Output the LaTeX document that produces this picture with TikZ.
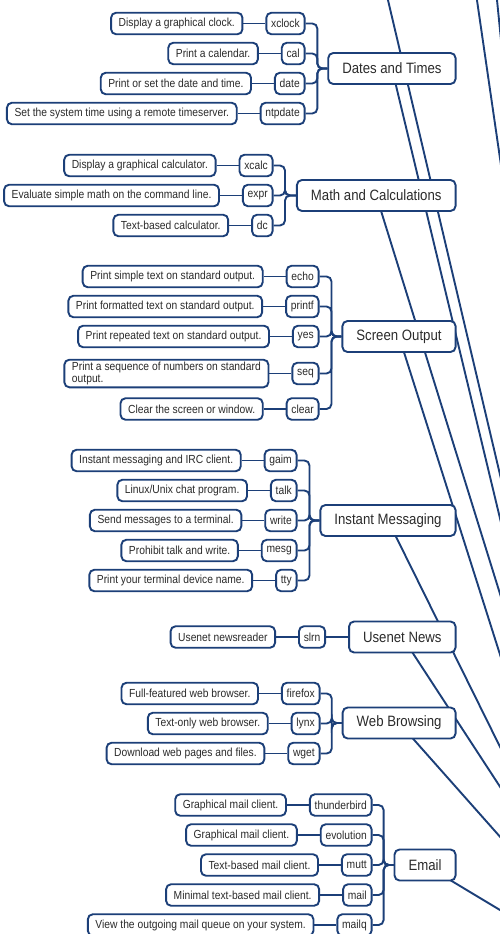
\documentclass[tikz,border=0pt]{standalone}
\usepackage{fontspec}
\setmainfont{Liberation Sans}[FakeStretch=0.88]
\usepackage{xcolor}
\usetikzlibrary{positioning, backgrounds}

\definecolor{mapblue}{HTML}{1C3F78}
\definecolor{maptext}{HTML}{2B2B2B}

\begin{document}
\begin{tikzpicture}[
        x=1pt, y=-1pt,
        node distance=22pt,
        cmd/.style={rectangle, draw=mapblue, line width=1.9pt, fill=white, rounded corners=5pt, minimum height=21.5pt, inner xsep=4.8pt, inner ysep=2pt, text=maptext, font=\fontsize{11.7}{12.7}\selectfont, anchor=east},
        info/.style={cmd, inner xsep=7.6pt, align=left},
        topic/.style={cmd, minimum height=31pt, inner xsep=14pt, font=\fontsize{15}{18}\selectfont},
        line/.style={draw=mapblue, line width=1.9pt},
        branch/.style={line, rounded corners=5pt}
    ]
        \useasboundingbox (0,0) rectangle (500,934);

        % Dates and Times
        \node [topic] (dates) at (456.5,68.5) {Dates and Times};
        \node [cmd] (xclock) at (305.5,23.5) {xclock};
        \node [cmd] (cal) at (305.5,53.5) {cal};
        \node [cmd] (date) at (305.5,83.5) {date};
        \node [cmd] (ntpdate) at (305.5,113.5) {ntpdate};
        \node [info, left=of xclock] (xclocktxt) {Display a graphical clock.};
        \node [info, left=of cal] (caltxt) {Print a calendar.};
        \node [info, left=of date] (datetxt) {Print or set the date and time.};
        \node [info, left=of ntpdate] (ntpdatetxt) {Set the system time using a remote timeserver.};

        % Math and Calculations
        \node [topic] (math) at (456.5,195.5) {Math and Calculations};
        \node [cmd] (xcalc) at (273.5,165.5) {xcalc};
        \node [cmd] (expr) at (273.5,195.5) {expr};
        \node [cmd] (dc) at (273.5,225.5) {dc};
        \node [info, left=of xcalc] (xcalctxt) {Display a graphical calculator.};
        \node [info, left=of expr] (exprtxt) {Evaluate simple math on the command line.};
        \node [info, left=of dc] (dctxt) {Text-based calculator.};

        % Screen Output
        \node [topic] (screen) at (456.5,336.5) {Screen Output};
        \node [cmd] (echo) at (319.5,276.5) {echo};
        \node [cmd] (printf) at (319.5,306.5) {printf};
        \node [cmd] (yes) at (319.5,336.5) {yes};
        \node [cmd] (seq) at (319.5,373.5) {seq};
        \node [cmd] (clear) at (319.5,409) {clear};
        \node [info, left=of echo] (echotxt) {Print simple text on standard output.};
        \node [info, left=of printf] (printftxt) {Print formatted text on standard output.};
        \node [info, left=of yes] (yestxt) {Print repeated text on standard output.};
        \node [info, left=of seq] (seqtxt) {Print a sequence of numbers on standard\\output.};
        \node [info, left=of clear] (cleartxt) {Clear the screen or window.};

        % Instant Messaging
        \node [topic] (im) at (456.5,520.5) {Instant Messaging};
        \node [cmd] (gaim) at (297.5,460.5) {gaim};
        \node [cmd] (talk) at (297.5,490.5) {talk};
        \node [cmd] (write) at (297.5,520.5) {write};
        \node [cmd] (mesg) at (297.5,550.5) {mesg};
        \node [cmd] (tty) at (297.5,580.5) {tty};
        \node [info, left=of gaim] (gaimtxt) {Instant messaging and IRC client.};
        \node [info, left=of talk] (talktxt) {Linux/Unix chat program.};
        \node [info, left=of write] (writetxt) {Send messages to a terminal.};
        \node [info, left=of mesg] (mesgtxt) {Prohibit talk and write.};
        \node [info, left=of tty] (ttytxt) {Print your terminal device name.};

        % Usenet News
        \node [topic] (usenet) at (456.5,637) {Usenet News};
        \node [cmd, left=of usenet] (slrn) {slrn};
        \node [info, left=of slrn] (slrntxt) {Usenet newsreader};

        % Web Browsing
        \node [topic] (web) at (456.5,723) {Web Browsing};
        \node [cmd] (firefox) at (320.5,693.5) {firefox};
        \node [cmd] (lynx) at (320.5,723.5) {lynx};
        \node [cmd] (wget) at (320.5,753.5) {wget};
        \node [info, left=of firefox] (firefoxtxt) {Full-featured web browser.};
        \node [info, left=of lynx] (lynxtxt) {Text-only web browser.};
        \node [info, left=of wget] (wgettxt) {Download web pages and files.};

        % Email
        \node [topic] (email) at (456.5,865) {Email};
        \node [cmd] (thunderbird) at (372.5,805) {thunderbird};
        \node [cmd] (evolution) at (372.5,835) {evolution};
        \node [cmd] (mutt) at (372.5,865) {mutt};
        \node [cmd] (mail) at (372.5,895) {mail};
        \node [cmd] (mailq) at (372.5,925) {mailq};
        \node [info, left=of thunderbird] (thunderbirdtxt) {Graphical mail client.};
        \node [info, left=of evolution] (evolutiontxt) {Graphical mail client.};
        \node [info, left=of mutt] (mutttxt) {Text-based mail client.};
        \node [info, left=of mail] (mailtxt) {Minimal text-based mail client.};
        \node [info, left=of mailq] (mailqtxt) {View the outgoing mail queue on your system.};

        % loose ends of the long spokes
        \coordinate (top1) at (385.6,-10);
        \coordinate (top1end) at (510,517);
        \coordinate (top2) at (475.5,-10);
        \coordinate (top2end) at (510,227);
        \coordinate (top3) at (496,-10);
        \coordinate (top3end) at (510,130);
        \coordinate (datesend) at (510,560);
        \coordinate (mathend) at (510,626);
        \coordinate (screenend) at (510,686);
        \coordinate (imend) at (510,767);
        \coordinate (usenetend) at (510,802);
        \coordinate (webend) at (510,848);
        \coordinate (emailend) at (510,916);

        \begin{pgfonlayer}{background}
            \path [line] (top1) -- (top1end);
            \path [line] (top2) -- (top2end);
            \path [line] (top3) -- (top3end);
            \path [line] (dates.center) -- (datesend);
            \path [line] (math.center) -- (mathend);
            \path [line] (screen.center) -- (screenend);
            \path [line] (im.center) -- (imend);
            \path [line] (usenet.center) -- (usenetend);
            \path [line] (web.center) -- (webend);
            \path [line] (email.center) -- (emailend);
        \end{pgfonlayer}

        \path [line] (xclocktxt) -- (xclock);
        \path [line] (caltxt) -- (cal);
        \path [line] (datetxt) -- (date);
        \path [line] (ntpdatetxt) -- (ntpdate);
        \path [branch] (dates.west) -- ++(-10,0) |- (xclock.east);
        \path [branch] (dates.west) -- ++(-10,0) |- (cal.east);
        \path [branch] (dates.west) -- ++(-10,0) |- (date.east);
        \path [branch] (dates.west) -- ++(-10,0) |- (ntpdate.east);

        \path [line] (xcalctxt) -- (xcalc);
        \path [line] (exprtxt) -- (expr);
        \path [line] (dctxt) -- (dc);
        \path [branch] (math.west) -- ++(-11,0) |- (xcalc.east);
        \path [branch] (math.west) -- ++(-11,0) |- (expr.east);
        \path [branch] (math.west) -- ++(-11,0) |- (dc.east);

        \path [line] (echotxt) -- (echo);
        \path [line] (printftxt) -- (printf);
        \path [line] (yestxt) -- (yes);
        \path [line] (seqtxt) -- (seq);
        \path [line] (cleartxt) -- (clear);
        \path [branch] (screen.west) -- ++(-10,0) |- (echo.east);
        \path [branch] (screen.west) -- ++(-10,0) |- (printf.east);
        \path [branch] (screen.west) -- ++(-10,0) |- (yes.east);
        \path [branch] (screen.west) -- ++(-10,0) |- (seq.east);
        \path [branch] (screen.west) -- ++(-10,0) |- (clear.east);

        \path [line] (gaimtxt) -- (gaim);
        \path [line] (talktxt) -- (talk);
        \path [line] (writetxt) -- (write);
        \path [line] (mesgtxt) -- (mesg);
        \path [line] (ttytxt) -- (tty);
        \path [branch] (im.west) -- ++(-10,0) |- (gaim.east);
        \path [branch] (im.west) -- ++(-10,0) |- (talk.east);
        \path [branch] (im.west) -- ++(-10,0) |- (write.east);
        \path [branch] (im.west) -- ++(-10,0) |- (mesg.east);
        \path [branch] (im.west) -- ++(-10,0) |- (tty.east);

        \path [line] (slrntxt) -- (slrn);
        \path [line] (slrn) -- (usenet);

        \path [line] (firefoxtxt) -- (firefox);
        \path [line] (lynxtxt) -- (lynx);
        \path [line] (wgettxt) -- (wget);
        \path [branch] (web.west) -- ++(-10,0) |- (firefox.east);
        \path [branch] (web.west) -- ++(-10,0) |- (lynx.east);
        \path [branch] (web.west) -- ++(-10,0) |- (wget.east);

        \path [line] (thunderbirdtxt) -- (thunderbird);
        \path [line] (evolutiontxt) -- (evolution);
        \path [line] (mutttxt) -- (mutt);
        \path [line] (mailtxt) -- (mail);
        \path [line] (mailqtxt) -- (mailq);
        \path [branch] (email.west) -- ++(-10,0) |- (thunderbird.east);
        \path [branch] (email.west) -- ++(-10,0) |- (evolution.east);
        \path [branch] (email.west) -- ++(-10,0) |- (mutt.east);
        \path [branch] (email.west) -- ++(-10,0) |- (mail.east);
        \path [branch] (email.west) -- ++(-10,0) |- (mailq.east);
    \end{tikzpicture}
\end{document}
